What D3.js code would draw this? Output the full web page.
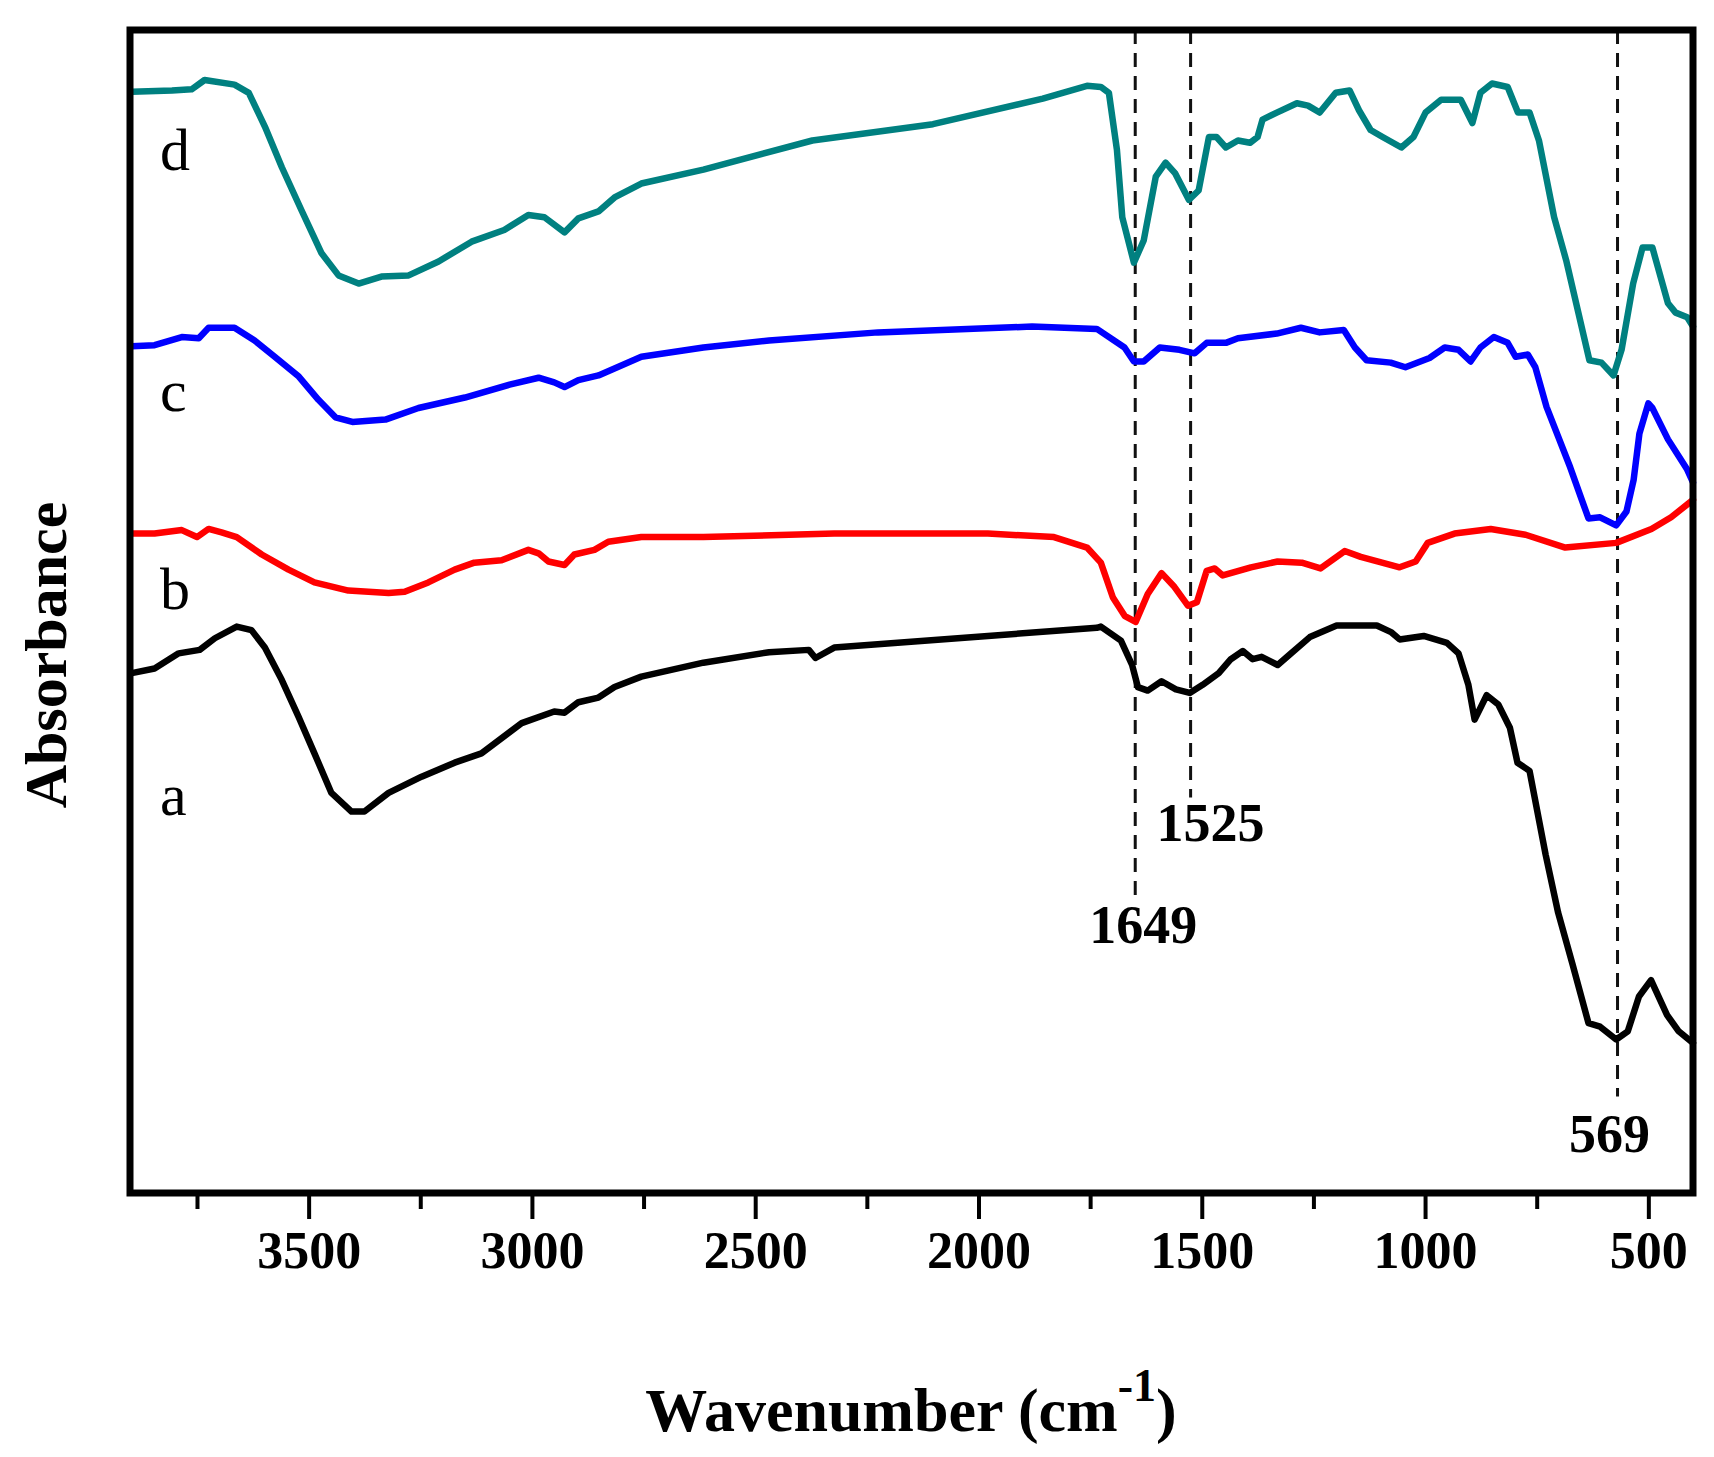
<!DOCTYPE html>
<html>
<head>
<meta charset="utf-8">
<script src="https://cdn.jsdelivr.net/npm/d3@7"></script>
<style>
  body { margin: 0; background: #fff; }
  svg { display: block; }
</style>
</head>
<body>
<svg id="plot" width="1714" height="1457"></svg>
<script>
// spectra: [wavenumber (cm-1), absorbance (a.u., offset)]
const specA = [[3896,0.447],[3845,0.451],[3791,0.464],[3744,0.467],[3710,0.477],[3661,0.487],[3628,0.484],[3598,0.469],
  [3560,0.441],[3522,0.409],[3487,0.378],[3449,0.344],[3404,0.328],[3375,0.328],[3321,0.344],[3247,0.358],[3173,0.370],
  [3113,0.378],[3023,0.404],[2950,0.414],[2927,0.413],[2896,0.422],[2851,0.426],[2815,0.435],[2755,0.444],[2616,0.456],
  [2469,0.465],[2380,0.467],[2365,0.460],[2323,0.469],[1979,0.479],[1735,0.486],[1726,0.487],[1681,0.475],[1656,0.454],
  [1643,0.435],[1621,0.432],[1590,0.440],[1558,0.433],[1527,0.430],[1498,0.437],[1462,0.447],[1435,0.459],[1408,0.466],
  [1386,0.459],[1366,0.461],[1330,0.454],[1303,0.463],[1258,0.478],[1198,0.488],[1108,0.488],[1075,0.482],[1057,0.476],
  [1003,0.479],[951,0.473],[925,0.464],[903,0.437],[889,0.407],[862,0.428],[836,0.420],[810,0.400],[793,0.370],
  [766,0.363],[730,0.291],[702,0.241],[670,0.197],[634,0.146],[608,0.143],[572,0.132],[546,0.139],[521,0.169],
  [494,0.183],[458,0.153],[432,0.139],[400,0.129]];

const specB = [[3896,0.567],[3845,0.567],[3784,0.570],[3750,0.564],[3724,0.571],[3695,0.568],[3661,0.564],[3605,0.549],
  [3545,0.536],[3487,0.525],[3411,0.518],[3321,0.516],[3285,0.517],[3232,0.525],[3173,0.536],[3129,0.542],[3068,0.544],
  [3008,0.553],[2985,0.550],[2963,0.543],[2927,0.540],[2905,0.549],[2860,0.553],[2829,0.560],[2755,0.564],[2616,0.564],
  [2323,0.567],[1979,0.567],[1831,0.564],[1757,0.555],[1726,0.542],[1699,0.512],[1672,0.496],[1648,0.491],[1621,0.515],
  [1590,0.533],[1563,0.522],[1531,0.505],[1511,0.508],[1489,0.535],[1471,0.537],[1453,0.531],[1390,0.538],[1330,0.543],
  [1276,0.542],[1234,0.537],[1180,0.552],[1144,0.547],[1057,0.538],[1021,0.543],[994,0.559],[934,0.567],[853,0.571],
  [775,0.566],[686,0.555],[572,0.559],[493,0.571],[449,0.581],[400,0.596]];

const specC = [[3896,0.728],[3845,0.729],[3784,0.736],[3746,0.735],[3724,0.744],[3666,0.744],[3621,0.733],[3576,0.719],
  [3522,0.702],[3478,0.682],[3440,0.667],[3402,0.663],[3328,0.665],[3254,0.675],[3150,0.684],[3050,0.695],[2985,0.701],
  [2950,0.697],[2927,0.693],[2896,0.699],[2851,0.703],[2755,0.719],[2616,0.727],[2469,0.733],[2225,0.740],[1880,0.745],
  [1735,0.743],[1673,0.727],[1652,0.715],[1630,0.715],[1594,0.727],[1550,0.725],[1516,0.722],[1489,0.731],[1446,0.731],
  [1419,0.735],[1332,0.739],[1278,0.744],[1236,0.740],[1182,0.742],[1157,0.727],[1131,0.716],[1077,0.714],[1044,0.710],
  [990,0.718],[956,0.727],[925,0.725],[898,0.715],[876,0.727],[846,0.736],[815,0.731],[797,0.719],[770,0.721],
  [753,0.710],[728,0.676],[675,0.624],[649,0.596],[634,0.580],[608,0.581],[572,0.574],[549,0.586],[533,0.613],
  [520,0.653],[500,0.679],[491,0.675],[456,0.648],[413,0.622],[400,0.611]];

const specD = [[3896,0.947],[3806,0.948],[3762,0.949],[3733,0.957],[3666,0.953],[3634,0.946],[3598,0.917],[3560,0.882],
  [3516,0.845],[3471,0.808],[3433,0.789],[3388,0.782],[3337,0.788],[3276,0.789],[3209,0.801],[3135,0.818],[3062,0.828],
  [3008,0.841],[2972,0.839],[2927,0.826],[2896,0.838],[2851,0.844],[2815,0.856],[2755,0.868],[2616,0.880],[2372,0.905],
  [2102,0.919],[1856,0.941],[1757,0.952],[1726,0.951],[1708,0.946],[1690,0.897],[1678,0.839],[1652,0.800],[1630,0.819],
  [1603,0.874],[1581,0.886],[1560,0.877],[1529,0.854],[1507,0.862],[1484,0.908],[1467,0.908],[1446,0.899],[1419,0.905],
  [1392,0.903],[1375,0.908],[1364,0.923],[1332,0.929],[1287,0.937],[1262,0.935],[1236,0.929],[1200,0.946],[1169,0.948],
  [1148,0.931],[1122,0.914],[1095,0.908],[1053,0.899],[1026,0.908],[999,0.929],[964,0.940],[920,0.940],[894,0.920],
  [876,0.946],[850,0.954],[815,0.951],[792,0.929],[766,0.929],[745,0.905],[711,0.839],[684,0.802],[658,0.759],
  [632,0.716],[605,0.714],[578,0.703],[560,0.725],[534,0.782],[513,0.813],[491,0.813],[456,0.765],[439,0.757],
  [413,0.753],[400,0.745]];

const seriesNames = ["a", "b", "c", "d"];
const seriesColors = ["#000000", "#ff0000", "#0000ff", "#008080"];
const seriesLabelY = [0.325, 0.502, 0.672, 0.880];   // where the letter sits (absorbance units)

const majorTicks = [3500, 3000, 2500, 2000, 1500, 1000, 500];
const minorTicks = [3750, 3250, 2750, 2250, 1750, 1250, 750];

// marked bands and how far down their dashed line runs
const peaks = [1649, 1525, 569];
const peakLineEnd = [0.252, 0.34, 0.083];
const peakLabelY = [0.215, 0.303, 0.035];
const peakLabelDx = [8, 20, -8];

const svg = d3.select("#plot");
const mLeft = 130, mRight = 1693, mTop = 30, mBottom = 1193;

const x = d3.scaleLinear().domain([3900, 400]).range([mLeft, mRight]);
const y = d3.scaleLinear().domain([0, 1]).range([mBottom, mTop]);

const serif = "'Liberation Serif', 'DejaVu Serif', serif";

// dashed guide lines
peaks.forEach(function(p, i) {
    svg.append("line")
        .attr("x1", x(p)).attr("x2", x(p))
        .attr("y1", mTop).attr("y2", y(peakLineEnd[i]))
        .attr("stroke", "#111")
        .attr("stroke-width", 3)
        .attr("stroke-dasharray", "14,9");
    svg.append("text")
        .attr("x", x(p) + peakLabelDx[i])
        .attr("y", y(peakLabelY[i]))
        .attr("text-anchor", "middle")
        .attr("font-family", serif)
        .attr("font-weight", "bold")
        .attr("font-size", "54px")
        .text(p);
});

// spectra
const line = d3.line()
    .x(function(d) { return x(d[0]); })
    .y(function(d) { return y(d[1]); });

[specA, specB, specC, specD].forEach(function(s, i) {
    svg.append("path")
        .datum(s)
        .attr("fill", "none")
        .attr("stroke", seriesColors[i])
        .attr("stroke-width", 6.5)
        .attr("stroke-linejoin", "round")
        .attr("stroke-linecap", "round")
        .attr("d", line);

    svg.append("text")
        .attr("x", 160)
        .attr("y", y(seriesLabelY[i]))
        .attr("font-family", serif)
        .attr("font-size", "60px")
        .text(seriesNames[i]);
});

// frame
svg.append("rect")
    .attr("x", mLeft).attr("y", mTop)
    .attr("width", mRight - mLeft).attr("height", mBottom - mTop)
    .attr("fill", "none")
    .attr("stroke", "#000")
    .attr("stroke-width", 7);

// x axis ticks
const gMinor = svg.append("g")
    .attr("transform", "translate(0," + (mBottom + 3) + ")")
    .call(d3.axisBottom(x).tickValues(minorTicks).tickSize(13).tickFormat(""));
gMinor.select(".domain").remove();
gMinor.selectAll("line").attr("stroke-width", 4);

const gMajor = svg.append("g")
    .attr("transform", "translate(0," + (mBottom + 3) + ")")
    .call(d3.axisBottom(x).tickValues(majorTicks).tickSize(23).tickPadding(12).tickFormat(d3.format("d")));
gMajor.select(".domain").remove();
gMajor.selectAll("line").attr("stroke-width", 4);
gMajor.selectAll("text")
    .attr("font-family", serif)
    .attr("font-weight", "bold")
    .attr("font-size", "52px")
    .attr("fill", "#000");

// axis titles
svg.append("text")
    .attr("transform", "translate(66,655) rotate(-90)")
    .attr("text-anchor", "middle")
    .attr("font-family", serif)
    .attr("font-weight", "bold")
    .attr("font-size", "60px")
    .text("Absorbance");

const xt = svg.append("text")
    .attr("x", 911)
    .attr("y", 1431)
    .attr("text-anchor", "middle")
    .attr("font-family", serif)
    .attr("font-weight", "bold")
    .attr("font-size", "62px");
xt.append("tspan").text("Wavenumber (cm");
xt.append("tspan").attr("dy", -30).attr("font-size", "46px").text("-1");
xt.append("tspan").attr("dy", 30).text(")");
</script>
</body>
</html>
